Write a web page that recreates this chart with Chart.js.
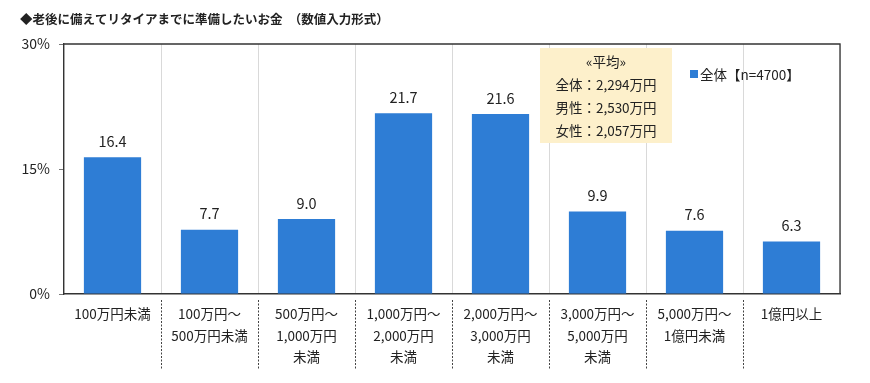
<!DOCTYPE html>
<html><head><meta charset="utf-8">
<script src="https://cdn.jsdelivr.net/npm/chart.js@4.4.1/dist/chart.umd.min.js"></script>
<style>html,body{margin:0;padding:0;background:#fff}canvas{display:block}</style>
</head><body>
<canvas id="c" width="870" height="383"></canvas>
<script>
const titleText = "◆老後に備えてリタイアまでに準備したいお金　（数値入力形式）";
const categories = [
  ["100万円未満"],
  ["100万円～", "500万円未満"],
  ["500万円～", "1,000万円", "未満"],
  ["1,000万円～", "2,000万円", "未満"],
  ["2,000万円～", "3,000万円", "未満"],
  ["3,000万円～", "5,000万円", "未満"],
  ["5,000万円～", "1億円未満"],
  ["1億円以上"]
];
const seriesName = "全体【n=4700】";
const values = [16.4, 7.7, 9.0, 21.7, 21.6, 9.9, 7.6, 6.3];
const yTicks = [0, 15, 30];
const noteLines = ["«平均»", "全体：2,294万円", "男性：2,530万円", "女性：2,057万円"];

const FONT = "'Noto Sans CJK JP', 'Noto Sans', sans-serif";
const BAR = "#2E7DD5";

const decor = {
  id: 'decor',
  afterDraw(chart) {
    const ctx = chart.ctx, a = chart.chartArea;
    const x = chart.scales.x;
    ctx.save();
    // title
    ctx.font = "bold 12.5px " + FONT;
    ctx.fillStyle = "#222";
    ctx.textBaseline = "middle";
    ctx.textAlign = "left";
    ctx.fillText(titleText, 20, 19);
    // frame top & right
    ctx.strokeStyle = "#333";
    ctx.lineWidth = 1.3;
    ctx.beginPath();
    ctx.moveTo(a.left, a.top); ctx.lineTo(a.right, a.top); ctx.lineTo(a.right, a.bottom);
    ctx.stroke();
    // dashed separators below axis
    ctx.setLineDash([2, 1.5]);
    ctx.strokeStyle = "#444";
    ctx.lineWidth = 1;
    for (let i = 1; i < categories.length; i++) {
      const px = (x.getPixelForTick(i - 1) + x.getPixelForTick(i)) / 2;
      ctx.beginPath();
      ctx.moveTo(Math.round(px) + 0.5, a.bottom + 6);
      ctx.lineTo(Math.round(px) + 0.5, a.bottom + 76);
      ctx.stroke();
    }
    ctx.setLineDash([]);
    // value labels
    const meta = chart.getDatasetMeta(0);
    ctx.font = "14.5px " + FONT;
    ctx.fillStyle = "#222";
    ctx.textAlign = "center";
    meta.data.forEach((bar, i) => {
      ctx.fillText(values[i].toFixed(1), bar.x, bar.y - 16);
    });
    // note box
    const bx = 540, by = 48, bw = 132, bh = 95;
    ctx.fillStyle = "#FDF0CB";
    ctx.fillRect(bx, by, bw, bh);
    ctx.fillStyle = "#222";
    ctx.font = "13.5px " + FONT;
    noteLines.forEach((t, i) => {
      ctx.fillText(t, bx + bw / 2, by + 14 + i * 23);
    });
    // legend
    ctx.fillStyle = BAR;
    ctx.fillRect(690, 70, 8, 8);
    ctx.fillStyle = "#222";
    ctx.textAlign = "left";
    ctx.font = "13.5px " + FONT;
    ctx.fillText(chart.data.datasets[0].label, 700, 74.5);
    ctx.restore();
  }
};

new Chart(document.getElementById('c'), {
  type: 'bar',
  data: {
    labels: categories,
    datasets: [{
      label: seriesName,
      data: values,
      backgroundColor: BAR,
      categoryPercentage: 1,
      barPercentage: 0.59
    }]
  },
  options: {
    responsive: false,
    animation: false,
    devicePixelRatio: 1,
    layout: { padding: { left: 0, top: 44, right: 30, bottom: 0 } },
    plugins: { legend: { display: false }, tooltip: { enabled: false }, title: { display: false } },
    scales: {
      x: {
        afterFit(s) { s.height = 89; },
        grid: {
          offset: true,
          drawTicks: false,
          color: "#D9D9D9",
          lineWidth: 1
        },
        border: { display: true, color: "#333", width: 1.5 },
        ticks: {
          padding: 9,
          color: "#222",
          font: { family: FONT, size: 13.5, lineHeight: 1.6 },
          maxRotation: 0,
          autoSkip: false
        }
      },
      y: {
        min: 0, max: 30,
        afterFit(s) { s.width = 64; },
        afterBuildTicks(s) { s.ticks = yTicks.map(v => ({ value: v })); },
        grid: { drawOnChartArea: false, tickLength: 5, color: "#777" },
        border: { display: true, color: "#333", width: 1.3 },
        ticks: {
          padding: 9,
          color: "#222",
          font: { family: FONT, size: 14 },
          callback: v => v + "%"
        }
      }
    }
  },
  plugins: [decor]
});
</script>
</body></html>
